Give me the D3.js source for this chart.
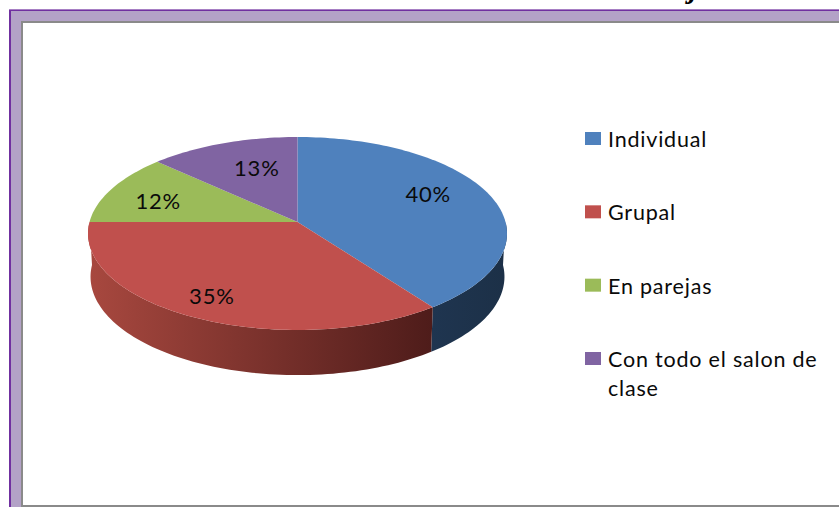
<!DOCTYPE html>
<html>
<head>
<meta charset="utf-8">
<script src="https://cdn.jsdelivr.net/npm/d3@7"></script>
<style>
  html, body { margin: 0; padding: 0; background: #fff; overflow: hidden; }
  text { font-family: Lato, "Open Sans", sans-serif; fill: #0a0a0a; }
</style>
</head>
<body>
<div id="visualization"></div>
<script>
// chart data
const categories = ["Individual", "Grupal", "En parejas", "Con todo el salon de clase"];
const shares = [40, 35, 12, 13];

const topColors = ["#4f81bd", "#c0504d", "#9bbb59", "#8064a2"];
const sideColors = [["#1f3550", "#1c3047"], ["#a8483f", "#4e1c1a"], ["#5d7035", "#5d7035"], ["#4c3c61", "#4c3c61"]];

// where each % label sits on the pie plane (fraction of radius, degrees off slice middle)
const labelRadius = [0.72, 0.805, 0.724, 0.644];
const labelNudge = [-7.2, 0.9, -3.4, 4.4];

const svgWidth = 839;
const svgHeight = 507;

const svg = d3.select("#visualization")
  .append("svg")
  .attr("width", svgWidth)
  .attr("height", svgHeight)
  .style("display", "block");

// frame around the chart
svg.append("rect").attr("x", 9).attr("y", 9).attr("width", 840).attr("height", 510).attr("fill", "#7030a0");
svg.append("rect").attr("x", 9).attr("y", 9).attr("width", 840).attr("height", 1).attr("fill", "#a77fc4");
svg.append("rect").attr("x", 11).attr("y", 11).attr("width", 840).attr("height", 510).attr("fill", "#b3a2c7");
svg.append("rect").attr("x", 21).attr("y", 21).attr("width", 840).attr("height", 486).attr("fill", "#8a8a8a");
svg.append("rect").attr("x", 23).attr("y", 23).attr("width", 840).attr("height", 482).attr("fill", "#fff");

// bit of the page title that is cut off at the top
svg.append("text")
  .attr("x", 689)
  .attr("y", -2)
  .style("font-family", "'Liberation Serif', serif")
  .style("font-weight", "bold")
  .style("font-style", "italic")
  .style("font-size", "30px")
  .style("fill", "#000")
  .text("j");

// the pie lies on a tilted plane: this takes an angle/radius to the screen
const cx = 297.5, cy = 222;
const depth = 43;
const tilt = 0.119;
function project(angle, r, isBottom) {
  const u = Math.sin(angle) * r;
  const v = -Math.cos(angle) * r;
  const w = 1 - tilt * v;
  const rx = isBottom ? 205.5 : 208;
  const ry = isBottom ? 97 : 95.1;
  return [cx + rx * u / w, cy + (isBottom ? depth : 0) + ry * v / w];
}

const pie = d3.pie().sort(null).value(d => d);
const slices = pie(shares);
const line = d3.line();

function arcAngles(a0, a1) {
  const n = Math.max(2, Math.ceil((a1 - a0) * 40));
  return d3.range(n + 1).map(i => a0 + (a1 - a0) * i / n);
}

const defs = svg.append("defs");
sideColors.forEach((c, i) => {
  const g = defs.append("linearGradient").attr("id", "side" + i).attr("x1", 0).attr("x2", 1);
  g.append("stop").attr("offset", "0%").attr("stop-color", c[0]);
  g.append("stop").attr("offset", "100%").attr("stop-color", c[1]);
});

// side wall, only for the front half of the pie
slices.forEach((s, i) => {
  const a0 = Math.max(s.startAngle, Math.PI / 2);
  const a1 = Math.min(s.endAngle, Math.PI * 1.5);
  if (a1 <= a0) return;
  const angles = arcAngles(a0, a1);
  const pts = angles.map(a => project(a, 1, false))
    .concat(angles.slice().reverse().map(a => project(a, 1, true)));
  svg.append("path")
    .attr("d", line(pts) + "Z")
    .attr("fill", `url(#side${i})`);
});

// top of the pie
slices.forEach((s, i) => {
  const pts = [[cx, cy]].concat(arcAngles(s.startAngle, s.endAngle).map(a => project(a, 1, false)));
  svg.append("path")
    .attr("d", line(pts) + "Z")
    .attr("fill", topColors[i]);
});

// % labels
slices.forEach((s, i) => {
  const mid = (s.startAngle + s.endAngle) / 2 + labelNudge[i] * Math.PI / 180;
  const p = project(mid, labelRadius[i], false);
  svg.append("text")
    .attr("x", p[0])
    .attr("y", p[1] + 8)
    .attr("text-anchor", "middle")
    .style("font-size", "22px")
    .style("letter-spacing", "0.8px")
    .text(d3.format(".0f")(s.data) + "%");
});

// legend
const legendY = d3.scalePoint().domain(categories).range([139, 359]);
const legend = svg.append("g");
categories.forEach((c, i) => {
  const y = legendY(c);
  legend.append("rect")
    .attr("x", 585)
    .attr("y", y - 7)
    .attr("width", 16)
    .attr("height", 13)
    .attr("fill", topColors[i]);
  const label = legend.append("text")
    .attr("x", 608)
    .attr("y", y + 8)
    .style("font-size", "21.5px")
    .style("letter-spacing", "0.8px");
  if (c.length > 22) {
    // last entry does not fit on one line
    label.append("tspan").attr("x", 608).text(c.slice(0, 20));
    label.append("tspan").attr("x", 608).attr("dy", 29).text(c.slice(21));
  } else {
    label.text(c);
  }
});
</script>
</body>
</html>
